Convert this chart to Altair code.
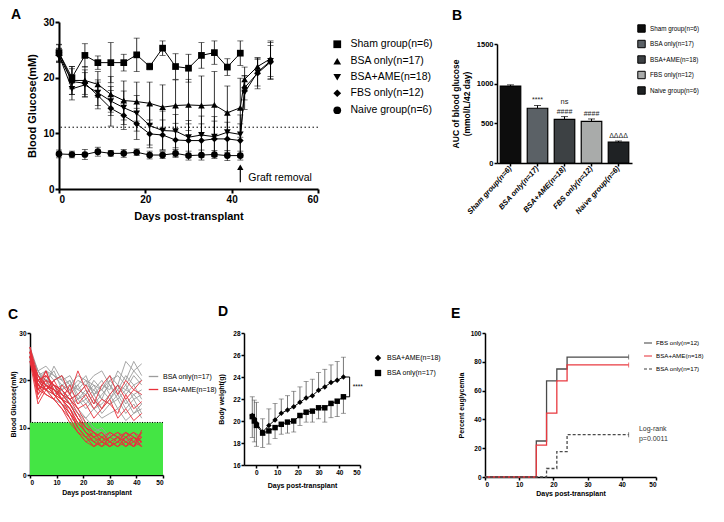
import altair as alt
import pandas as pd

FONT = "Liberation Sans"

# ---------------- Panel A data ----------------
a_groups = ["Sham group(n=6)", "BSA only(n=17)", "BSA+AME(n=18)", "FBS only(n=12)", "Naive group(n=6)"]
a_shapes = ["square", "triangle-up", "triangle-down", "diamond", "circle"]
a_days = [0, 3, 6, 9, 12, 15, 18, 21, 24, 27, 30, 33, 36, 39, 42]
a_days_post = [43, 46, 49]

sham_mean = [24.5, 20.0, 24.0, 22.7, 22.7, 22.7, 24.1, 22.0, 25.3, 22.0, 21.7, 24.0, 24.5, 21.9, 24.4]
sham_err = [1.5, 2.0, 2.1, 1.2, 3.6, 1.5, 3.0, 0.6, 1.3, 2.3, 2.5, 2.3, 2.1, 1.5, 2.2]
bsa_mean = [24.4, 19.5, 19.5, 18.8, 17.0, 15.9, 15.7, 15.4, 14.7, 15.0, 15.1, 15.0, 15.1, 13.7, 14.6]
bsa_err = [1.5, 2.5, 2.5, 2.3, 3.2, 3.5, 3.5, 3.8, 4.0, 4.6, 4.6, 5.3, 6.0, 4.8, 5.3]
bsa_post = [19.7, 22.0, 23.4]
bsa_post_err = [2.2, 1.3, 3.2]
ame_mean = [24.0, 18.0, 18.7, 17.3, 15.8, 14.6, 13.6, 11.4, 10.5, 10.4, 9.3, 9.7, 9.4, 10.2, 9.8]
ame_err = [1.3, 2.0, 2.2, 2.3, 2.6, 3.0, 3.2, 3.5, 3.5, 3.0, 3.0, 3.4, 3.6, 3.6, 3.5]
ame_post = [17.3, 21.0, 23.0]
ame_post_err = [3.0, 2.5, 3.3]
fbs_mean = [24.0, 19.3, 19.0, 16.8, 14.5, 13.2, 11.7, 9.9, 9.7, 8.8, 8.7, 8.7, 9.0, 9.0, 8.7]
fbs_err = [1.2, 2.3, 2.4, 2.4, 3.2, 2.5, 2.8, 2.5, 2.7, 3.0, 3.0, 3.0, 3.2, 3.0, 3.0]
fbs_post = [18.2, 20.8, 22.8]
fbs_post_err = [2.2, 2.8, 3.0]
naive_mean = [6.3, 6.2, 6.2, 6.7, 6.4, 6.4, 6.6, 6.1, 6.1, 6.4, 6.0, 6.1, 6.2, 6.0, 6.0]
naive_err = [0.7, 0.6, 0.9, 0.8, 0.5, 0.7, 0.6, 0.7, 0.6, 0.7, 0.8, 0.9, 0.7, 0.9, 0.8]
a_threshold = [11.1]
graft_day = [42]
graft_arrow = [1.2, 3.9]
graft_label = ["Graft removal"]

# ---------------- Panel B data ----------------
b_groups = ["Sham group(n=6)", "BSA only(n=17)", "BSA+AME(n=18)", "FBS only(n=12)", "Naive group(n=6)"]
b_auc = [970, 690, 550, 525, 265]
b_err = [15, 35, 35, 30, 12]
b_colors = ["#0d0d0d", "#5b6166", "#3d4144", "#a9abaa", "#1f2224"]
b_sig = ["", "****", "####", "####", "ΔΔΔΔ"]
b_sig2 = ["", "", "ns", "", ""]

# ---------------- Panel C data ----------------
c_days = [0, 3, 6, 9, 12, 15, 18, 21, 24, 27, 30, 33, 36, 39, 42]
c_gray = [
    [26, 21, 20, 19, 18, 20, 17, 19, 18, 16, 20, 18, 21, 19, 20],
    [25, 20, 22, 21, 19, 18, 19, 21, 17, 19, 18, 22, 20, 24, 21],
    [27, 22, 19, 23, 20, 21, 18, 17, 20, 18, 21, 19, 24, 22, 23.5],
    [25, 19, 18, 20, 21, 17, 19, 16, 18, 20, 17, 19, 18, 21, 19],
    [26, 20, 21, 18, 19, 20, 16, 18, 15, 17, 19, 16, 18, 17, 18],
    [24, 21, 20, 22, 18, 19, 21, 20, 19, 18, 16, 19, 17, 19, 16],
    [25, 18, 19, 17, 18, 16, 17, 15, 17, 14, 16, 18, 15, 17, 15],
    [26, 22, 23, 21, 20, 18, 20, 19, 21, 22, 19, 17, 19, 16, 17],
    [25, 20, 18, 19, 16, 17, 15, 16, 14, 15, 17, 14, 16, 13, 15],
    [27, 19, 20, 18, 17, 18, 16, 17, 19, 16, 15, 17, 14, 16, 13],
    [24, 20, 19, 17, 18, 15, 16, 14, 16, 13, 15, 16, 13, 15, 12],
    [26, 21, 22, 20, 21, 19, 18, 20, 17, 18, 20, 21, 19, 22, 20],
    [25, 20, 19, 18, 16, 15, 13, 12, 14, 12, 13, 14, 11.5, 13, 14],
    [26, 19, 18, 17, 15, 14, 12, 10, 9, 10, 8, 9, 7, 9, 8],
    [25, 21, 19, 18, 17, 15, 13, 11, 9, 8, 9, 7, 8, 6, 7],
    [24, 20, 18, 16, 15, 12, 11, 9, 8, 9, 7, 8, 9, 7, 8],
    [26, 22, 20, 19, 17, 16, 14, 12, 10, 9, 8, 9, 7, 8, 6],
]
c_red = [
    [27, 19, 18, 20, 21, 17, 22, 18, 15, 19, 21, 17, 20, 18, 20],
    [25, 17, 21, 19, 18, 16, 17, 19, 16, 14, 17, 19, 16, 18, 17],
    [26, 18, 22, 17, 16, 19, 15, 17, 14, 16, 15, 13, 17, 14, 15.5],
    [24, 15, 18, 16, 19, 17, 14, 15, 12, 14, 16, 12, 14, 11.5, 13],
    [26, 20, 19, 18, 16, 14, 11, 9, 8, 7, 6, 7, 8, 6, 7],
    [25, 18, 20, 17, 15, 13, 10, 8, 7, 6, 8, 7, 6, 8, 6],
    [27, 21, 19, 18, 17, 15, 12, 10, 8, 9, 7, 6, 7, 8, 7],
    [25, 19, 18, 19, 16, 14, 11, 9, 7, 8, 9, 8, 7, 6, 8],
    [26, 17, 19, 17, 15, 12, 9, 8, 6, 7, 8, 9, 8, 7, 9],
    [24, 20, 21, 19, 18, 16, 13, 10, 9, 7, 6, 8, 9, 7, 6],
    [26, 18, 17, 16, 14, 12, 9, 7, 6, 8, 7, 6, 8, 9, 7],
    [25, 21, 18, 20, 17, 15, 12, 9, 8, 6, 7, 8, 6, 7, 8],
    [27, 19, 22, 18, 16, 13, 10, 8, 9, 8, 6, 7, 9, 8, 6],
    [25, 16, 19, 17, 15, 13, 11, 9, 7, 6, 8, 9, 7, 6, 9],
    [26, 20, 18, 17, 16, 14, 10, 8, 6, 7, 9, 8, 6, 8, 7],
    [24, 18, 20, 19, 17, 16, 14, 11, 9, 8, 7, 6, 8, 9, 8],
    [26, 19, 17, 16, 14, 11, 9, 7, 8, 9, 7, 8, 7, 6, 9.5],
    [25, 21, 19, 18, 16, 15, 12, 10, 9, 7, 6, 7, 9, 8, 7],
]
c_groups = ["BSA only(n=17)", "BSA+AME(n=18)"]
c_colors = ["#9c9c9c", "#e8303a"]
c_band = [0, 11.1]
c_xrange = [0, 50]

# ---------------- Panel D data ----------------
d_days = [-2, -1, 0, 3, 6, 9, 12, 15, 18, 21, 24, 27, 30, 33, 36, 39, 42]
d_ame = [20.5, 20.2, 19.8, 19.0, 19.6, 20.1, 20.7, 21.0, 21.3, 21.7, 22.1, 22.3, 22.8, 23.1, 23.5, 23.7, 24.0]
d_ame_err = [1.7, 1.7, 1.9, 1.2, 1.5, 1.5, 1.3, 1.3, 1.4, 1.4, 1.5, 1.5, 1.6, 1.6, 1.6, 1.7, 1.8]
d_bsa = [20.4, 20.0, 19.6, 18.9, 19.1, 19.4, 19.7, 19.9, 20.0, 20.5, 20.8, 20.9, 21.2, 21.2, 21.6, 21.8, 22.2]
d_bsa_err = [1.9, 1.9, 1.9, 1.3, 1.2, 1.0, 0.9, 1.0, 1.0, 0.9, 0.9, 1.0, 1.0, 1.3, 1.3, 1.4, 1.5]
d_groups = ["BSA+AME(n=18)", "BSA only(n=17)"]
d_shapes = ["diamond", "square"]
d_sig = ["****"]

# ---------------- Panel E data ----------------
e_groups = ["FBS only(n=12)", "BSA+AME(n=18)", "BSA only(n=17)"]
e_colors = ["#4a4a4a", "#e8393f", "#4a4a4a"]
e_dashes = [[1, 0], [1, 0], [3, 2]]
e_fbs_days = [0, 15, 18, 21, 24, 42]
e_fbs_pct = [0, 25.0, 66.7, 75.0, 83.3, 83.3]
e_ame_days = [0, 15, 18, 21, 24, 42]
e_ame_pct = [0, 22.2, 44.4, 66.7, 77.8, 77.8]
e_bsa_days = [0, 18, 21, 24, 42]
e_bsa_pct = [0, 5.9, 17.6, 29.4, 29.4]
e_text = ["Log-rank\np=0.0011"]
e_text_pos = [45, 33]

# ================= helpers =================
def axis(values, title, lsize, tsize, dw=1.5, tpad=4, tsz=3, **kw):
    return alt.Axis(values=values, title=title, labelFontSize=lsize, titleFontSize=tsize,
                    domainWidth=dw, tickWidth=dw, tickSize=tsz, labelPadding=1,
                    titlePadding=tpad, labelFont=FONT, titleFont=FONT,
                    labelFontWeight="bold", titleFontWeight="bold", **kw)


def ptitle(letter, dx, offset, size=14):
    return alt.TitleParams(letter, anchor="start", frame="group", dx=dx, offset=offset,
                           fontSize=size, fontWeight="bold", font=FONT, color="black")


def spacer(w, h):
    return alt.Chart(pd.DataFrame({"s": [0]})).mark_point(opacity=0).properties(width=w, height=h)

# ================= Panel A =================
rows = []
series = [
    (a_groups[0], a_days, sham_mean, sham_err),
    (a_groups[1], a_days + a_days_post, bsa_mean + bsa_post, bsa_err + bsa_post_err),
    (a_groups[2], a_days + a_days_post, ame_mean + ame_post, ame_err + ame_post_err),
    (a_groups[3], a_days + a_days_post, fbs_mean + fbs_post, fbs_err + fbs_post_err),
    (a_groups[4], a_days, naive_mean, naive_err),
]
for g, ds, ms, es in series:
    for d, m, e in zip(ds, ms, es):
        rows.append({"group": g, "day": d, "mean": m, "lo": m - e, "hi": m + e})
df_a = pd.DataFrame(rows)

xa_scale = alt.Scale(domain=[0, 60], nice=False)
ya_scale = alt.Scale(domain=[0, 30], nice=False)
xa_axis = axis([0, 20, 40, 60], "Days post-transplant", 10, 11, dw=2, tpad=6, tsz=4)
ya_axis = axis([0, 10, 20, 30], "Blood Glucose(mM)", 10, 11, dw=2, tpad=5, tsz=4)
XA = lambda f: alt.X(f"{f}:Q", scale=xa_scale, axis=xa_axis)
YA = lambda f: alt.Y(f"{f}:Q", scale=ya_scale, axis=ya_axis)

base_a = alt.Chart(df_a)
thr_a = alt.Chart(pd.DataFrame({"y": a_threshold})).mark_rule(
    color="black", strokeDash=[1.5, 2.5], strokeWidth=1).encode(y=YA("y"))
err_a = base_a.mark_rule(color="black", strokeWidth=0.8).encode(x=XA("day"), y=YA("lo"), y2="hi:Q")
cap_lo_a = base_a.mark_tick(color="black", thickness=0.8, size=6, orient="horizontal").encode(x=XA("day"), y=YA("lo"))
cap_hi_a = base_a.mark_tick(color="black", thickness=0.8, size=6, orient="horizontal").encode(x=XA("day"), y=YA("hi"))
line_a = base_a.mark_line(color="black", strokeWidth=1).encode(x=XA("day"), y=YA("mean"), detail="group:N", order="day:Q")
pts_a = base_a.mark_point(filled=True, color="black", opacity=1, size=45).encode(
    x=XA("day"), y=YA("mean"),
    shape=alt.Shape("group:N", scale=alt.Scale(domain=a_groups, range=a_shapes),
                    legend=alt.Legend(title=None, orient="none", legendX=273, legendY=17,
                                      labelFontSize=10.5, labelFont=FONT, symbolSize=60,
                                      symbolFillColor="black", symbolStrokeColor="black",
                                      rowPadding=2, labelOffset=8)))
df_graft = pd.DataFrame({"day": graft_day, "lo": [graft_arrow[0]], "hi": [graft_arrow[1]],
                         "label": graft_label})
arrow_a = alt.Chart(df_graft).mark_rule(color="black", strokeWidth=1.2).encode(x=XA("day"), y=YA("lo"), y2="hi:Q")
head_a = alt.Chart(df_graft).mark_point(shape="triangle-up", filled=True, color="black", opacity=1, size=40).encode(
    x=XA("day"), y=YA("hi"))
text_a = alt.Chart(df_graft).mark_text(align="left", baseline="middle", dx=8, dy=-4, fontSize=10.5,
                                        font=FONT, color="black").encode(x=XA("day"), y=YA("lo"), text="label:N")
chartA = alt.layer(thr_a, err_a, cap_lo_a, cap_hi_a, line_a, pts_a, arrow_a, head_a, text_a).properties(
    width=259, height=167, title=ptitle("A", -48, -5))

# ================= Panel B =================
df_b = pd.DataFrame({"group": b_groups, "auc": b_auc, "hi": [a + e for a, e in zip(b_auc, b_err)],
                     "sig": b_sig, "sig2": b_sig2})
xb = alt.X("group:N", sort=b_groups, scale=alt.Scale(paddingInner=0.24, paddingOuter=0.12),
           axis=alt.Axis(title=None, labelAngle=-48, labelFontSize=7.5, labelFont=FONT,
                         labelFontWeight="bold", labelFontStyle="italic", domainWidth=1.5,
                         tickWidth=1.5, tickSize=3, labelPadding=1))
yb_scale = alt.Scale(domain=[0, 1500], nice=False, range=[141, 22])
yb_axis = axis([0, 500, 1000, 1500], ["AUC of blood glucose", "(mmol/L/42 day)"], 7.5, 8.5, dw=1.5, tpad=5,
               format="d")
base_b = alt.Chart(df_b)
bars_b = base_b.mark_bar(stroke="black", strokeWidth=1.2).encode(
    x=xb, y=alt.Y("auc:Q", scale=yb_scale, axis=yb_axis),
    fill=alt.Fill("group:N", scale=alt.Scale(domain=b_groups, range=b_colors),
                  legend=alt.Legend(title=None, orient="none", legendX=140, legendY=2,
                                    labelFontSize=6.3, labelFont=FONT, symbolType="square",
                                    symbolSize=55, symbolStrokeColor="black", symbolStrokeWidth=1,
                                    rowPadding=2.5, labelOffset=4)))
err_b = base_b.mark_rule(color="black", strokeWidth=1).encode(
    x=xb, y=alt.Y("auc:Q", scale=yb_scale, axis=yb_axis), y2="hi:Q")
cap_b = base_b.mark_tick(color="black", thickness=1, size=7, orient="horizontal").encode(
    x=xb, y=alt.Y("hi:Q", scale=yb_scale, axis=yb_axis))
sig_b = base_b.mark_text(baseline="bottom", dy=-2, fontSize=7, font=FONT, color="#222").encode(
    x=xb, y=alt.Y("hi:Q", scale=yb_scale, axis=yb_axis), text="sig:N")
sig2_b = base_b.mark_text(baseline="bottom", dy=-11, fontSize=7.5, font=FONT, color="#222").encode(
    x=xb, y=alt.Y("hi:Q", scale=yb_scale, axis=yb_axis), text="sig2:N")
chartB = alt.layer(bars_b, err_b, cap_b, sig_b, sig2_b).properties(
    width=135, height=141, title=ptitle("B", -45, -1))

# ================= Panel C =================
rows = []
for i, vals in enumerate(c_gray):
    for d, v in zip(c_days, vals):
        rows.append({"id": f"g{i}", "grp": c_groups[0], "day": d, "val": v})
df_cg = pd.DataFrame(rows)
rows = []
for i, vals in enumerate(c_red):
    for d, v in zip(c_days, vals):
        rows.append({"id": f"r{i}", "grp": c_groups[1], "day": d, "val": v})
df_cr = pd.DataFrame(rows)
xc_scale = alt.Scale(domain=[0, 50], nice=False)
yc_scale = alt.Scale(domain=[0, 30], nice=False)
xc_axis = axis([0, 10, 20, 30, 40, 50], "Days post-transplant", 6.5, 7, dw=1.5, tpad=3)
yc_axis = axis([0, 10, 20, 30], "Blood Glucose(mM)", 6.5, 7, dw=1.5, tpad=2)
XC = lambda f: alt.X(f"{f}:Q", scale=xc_scale, axis=xc_axis)
YC = lambda f: alt.Y(f"{f}:Q", scale=yc_scale, axis=yc_axis)
c_color = alt.Color("grp:N", scale=alt.Scale(domain=c_groups, range=c_colors),
                    legend=alt.Legend(title=None, orient="none", legendX=118, legendY=38,
                                      labelFontSize=7, labelFont=FONT, symbolType="stroke",
                                      symbolStrokeWidth=1.3, symbolSize=90, rowPadding=4, labelOffset=4))
df_band = pd.DataFrame({"x": [c_xrange[0]], "x2": [c_xrange[1]], "y": [c_band[0]], "y2": [c_band[1]]})
band_c = alt.Chart(df_band).mark_rect(color="#44e544").encode(x=XC("x"), x2="x2:Q", y=YC("y"), y2="y2:Q")
thr_c = alt.Chart(df_band).mark_rule(color="black", strokeDash=[1, 1.5], strokeWidth=1).encode(y=YC("y2"))
gray_c = alt.Chart(df_cg).mark_line(strokeWidth=0.9).encode(x=XC("day"), y=YC("val"), color=c_color, detail="id:N")
red_c = alt.Chart(df_cr).mark_line(strokeWidth=0.9).encode(x=XC("day"), y=YC("val"), color=c_color, detail="id:N")
chartC = alt.layer(band_c, thr_c, gray_c, red_c).properties(
    width=133, height=142, title=ptitle("C", -22, 8))

# ================= Panel D =================
rows = []
for d, m, e in zip(d_days, d_ame, d_ame_err):
    rows.append({"grp": d_groups[0], "day": d, "mean": m, "lo": m, "hi": m + e, "cap": m + e})
for d, m, e in zip(d_days, d_bsa, d_bsa_err):
    rows.append({"grp": d_groups[1], "day": d, "mean": m, "lo": m - e, "hi": m, "cap": m - e})
df_d = pd.DataFrame(rows)
xd_scale = alt.Scale(domain=[-6, 50], nice=False)
yd_scale = alt.Scale(domain=[16, 28], nice=False)
xd_axis = axis([0, 10, 20, 30, 40, 50], "Days post-transplant", 6.5, 7, dw=1.5, tpad=6)
yd_axis = axis([16, 18, 20, 22, 24, 26, 28], "Body weight(g)", 6.5, 7, dw=1.5, tpad=8)
XD = lambda f: alt.X(f"{f}:Q", scale=xd_scale, axis=xd_axis)
YD = lambda f: alt.Y(f"{f}:Q", scale=yd_scale, axis=yd_axis)
base_d = alt.Chart(df_d)
err_d = base_d.mark_rule(color="#555555", strokeWidth=0.8).encode(x=XD("day"), y=YD("lo"), y2="hi:Q")
cap_d = base_d.mark_tick(color="#555555", thickness=0.8, size=5, orient="horizontal").encode(x=XD("day"), y=YD("cap"))
line_d = base_d.mark_line(color="black", strokeWidth=1).encode(x=XD("day"), y=YD("mean"), detail="grp:N", order="day:Q")
pts_d = base_d.mark_point(filled=True, color="black", opacity=1, size=30).encode(
    x=XD("day"), y=YD("mean"),
    shape=alt.Shape("grp:N", scale=alt.Scale(domain=d_groups, range=d_shapes),
                    legend=alt.Legend(title=None, orient="none", legendX=130, legendY=21,
                                      labelFontSize=7, labelFont=FONT, symbolSize=40,
                                      symbolFillColor="black", symbolStrokeColor="black",
                                      rowPadding=1, labelOffset=5)))
df_br = pd.DataFrame({"x": [43.0], "x2": [45.0], "lo": [d_bsa[-1]], "hi": [d_ame[-1]],
                      "mid": [(d_bsa[-1] + d_ame[-1]) / 2], "label": d_sig})
br_v = alt.Chart(df_br).mark_rule(color="black", strokeWidth=1).encode(x=XD("x2"), y=YD("lo"), y2="hi:Q")
br_t = alt.Chart(df_br).mark_rule(color="black", strokeWidth=1).encode(x=XD("x"), x2="x2:Q", y=YD("hi"))
br_b = alt.Chart(df_br).mark_rule(color="black", strokeWidth=1).encode(x=XD("x"), x2="x2:Q", y=YD("lo"))
br_txt = alt.Chart(df_br).mark_text(align="left", baseline="middle", dx=3, fontSize=6.5, font=FONT,
                                     color="black").encode(x=XD("x2"), y=YD("mid"), text="label:N")
chartD = alt.layer(err_d, cap_d, line_d, pts_d, br_v, br_t, br_b, br_txt).properties(
    width=116, height=132, title=ptitle("D", -26, 11))

# ================= Panel E =================
rows = []
for g, ds, ps in [(e_groups[0], e_fbs_days, e_fbs_pct), (e_groups[1], e_ame_days, e_ame_pct),
                  (e_groups[2], e_bsa_days, e_bsa_pct)]:
    for d, p in zip(ds, ps):
        rows.append({"grp": g, "day": d, "pct": p})
df_e = pd.DataFrame(rows)
df_ecens = df_e.groupby("grp", as_index=False).last()
xe_scale = alt.Scale(domain=[0, 50], nice=False)
ye_scale = alt.Scale(domain=[0, 100], nice=False)
xe_axis = axis([0, 10, 20, 30, 40, 50], "Days post-transplant", 6.5, 7, dw=1.5, tpad=2)
ye_axis = axis([0, 20, 40, 60, 80, 100], "Percent euglycemia", 6.5, 7, dw=1.5, tpad=6)
XE = lambda f: alt.X(f"{f}:Q", scale=xe_scale, axis=xe_axis)
YE = lambda f: alt.Y(f"{f}:Q", scale=ye_scale, axis=ye_axis)
e_leg = dict(title=None, orient="none", legendX=158, legendY=5, labelFontSize=6.2, labelFont=FONT,
             symbolType="stroke", symbolStrokeWidth=1.3, symbolSize=64, rowPadding=4, labelOffset=3)
e_color = alt.Color("grp:N", scale=alt.Scale(domain=e_groups, range=e_colors), legend=alt.Legend(**e_leg))
e_dash = alt.StrokeDash("grp:N", scale=alt.Scale(domain=e_groups, range=e_dashes), legend=alt.Legend(**e_leg))
line_e = alt.Chart(df_e).mark_line(interpolate="step-after", strokeWidth=1.3).encode(
    x=XE("day"), y=YE("pct"), color=e_color, strokeDash=e_dash, detail="grp:N", order="day:Q")
cens_e = alt.Chart(df_ecens).mark_tick(thickness=1, size=5, orient="vertical").encode(
    x=XE("day"), y=YE("pct"), color=e_color)
df_etxt = pd.DataFrame({"x": [e_text_pos[0]], "y": [e_text_pos[1]], "t": e_text})
txt_e = alt.Chart(df_etxt).mark_text(align="left", baseline="middle", lineBreak="\n", fontSize=7,
                                     font=FONT, color="#333", lineHeight=10).encode(
    x=XE("x"), y=YE("y"), text="t:N")
chartE = alt.layer(line_e, cens_e, txt_e).properties(
    width=171, height=144, title=ptitle("E", -34, 9))

# ================= Layout =================
indep = dict(color="independent", shape="independent", fill="independent", strokeDash="independent")
row1 = alt.hconcat(spacer(29, 1), chartA, spacer(179, 1), chartB,
                   spacing=0, bounds="flush").resolve_scale(**indep)
row2 = alt.hconcat(chartC, spacer(81, 1), chartD, spacer(125, 1), chartE,
                   spacing=0, bounds="flush").resolve_scale(**indep)
chart = alt.vconcat(row1, row2, spacing=311, bounds="flush").resolve_scale(**indep).properties(
    padding=0).configure(font=FONT).configure_view(stroke=None).configure_axis(
    grid=False, domainColor="black", tickColor="black", labelColor="black", titleColor="black"
)

chart.save("out.html", embed_options={"renderer": "svg", "actions": False})
